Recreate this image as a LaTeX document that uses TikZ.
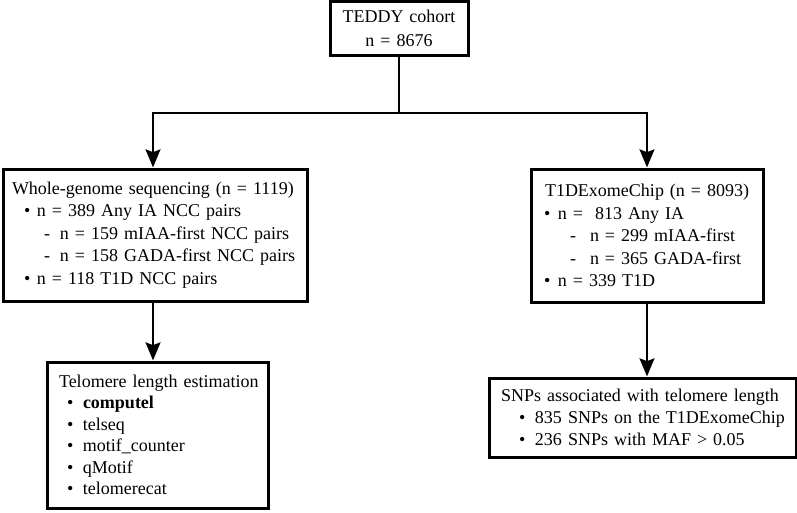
\documentclass[tikz,border=0pt]{standalone}
\usepackage{fontspec}
\setmainfont{Liberation Serif}
\usetikzlibrary{arrows.meta}
\newlength\pxu \setlength\pxu{0.75pt}
\newcommand\bul[3]{\hspace*{#1\pxu}\makebox[#2\pxu][l]{\textbullet}#3}
\newcommand\dsh[3]{\hspace*{#1\pxu}\makebox[#2\pxu][l]{-}#3}
\begin{document}
\begin{tikzpicture}[x=0.75pt,y=-0.75pt,
 box/.style={draw, line width=2.25pt, inner sep=0pt, align=left, font=\fontsize{13.5}{16.9}\selectfont},
 conn/.style={line width=2.2pt},
 arr/.style={line width=2.2pt, -{Stealth[length=13.5pt,width=11pt,inset=2pt]}}]
\useasboundingbox (0,0) rectangle (797,512);

\node[box, text width=138\pxu, minimum height=54\pxu, align=center, font=\fontsize{13.5}{18}\selectfont] (teddy) at (399,28) {TEDDY cohort\\n = 8676};

\node[box, text width=304\pxu, minimum height=132\pxu] (wgs) at (155,235)
 {\hspace*{9\pxu}Whole-genome sequencing (n = 1119)\\
  \bul{21}{13}{n = 389 Any IA NCC pairs}\\
  \dsh{41}{16}{n = 159 mIAA-first NCC pairs}\\
  \dsh{41}{16}{n = 158 GADA-first NCC pairs}\\
  \bul{21}{13}{n = 118 T1D NCC pairs}};

\node[box, text width=232\pxu, minimum height=133\pxu] (chip) at (647,235.5)
 {\hspace*{14\pxu}T1DExomeChip (n = 8093)\\
  \bul{13}{14}{n = \ 813 Any IA}\\
  \dsh{39}{20}{n = 299 mIAA-first}\\
  \dsh{39}{20}{n = 365 GADA-first}\\
  \bul{13}{14}{n = 339 T1D}};

\node[box, text width=221\pxu, minimum height=146\pxu, font=\fontsize{13.5}{16.1}\selectfont] (tel) at (157.5,435)
 {\hspace*{12\pxu}Telomere length estimation\\
  \bul{20}{16}{\textbf{computel}}\\
  \bul{20}{16}{telseq}\\
  \bul{20}{16}{motif\_counter}\\
  \bul{20}{16}{qMotif}\\
  \bul{20}{16}{telomerecat}};

\node[box, text width=307\pxu, minimum height=79\pxu, font=\fontsize{13.5}{16.5}\selectfont] (snp) at (642.5,417.5)
 {\hspace*{12\pxu}SNPs associated with telomere length\\
  \bul{30}{16}{835 SNPs on the T1DExomeChip}\\
  \bul{30}{16}{236 SNPs with MAF > 0.05}};

\coordinate (jy) at (399,113);
\coordinate (ax) at (153,0);
\draw[conn] (teddy.south) -- (jy);
\draw[arr] (jy) -| (wgs.north -| ax);
\draw[arr] (jy) -| (chip.north);
\draw[arr] (wgs.south -| ax) -- (tel.north -| ax);
\draw[arr] (chip.south) -- (snp.north -| chip.south);
\end{tikzpicture}
\end{document}
